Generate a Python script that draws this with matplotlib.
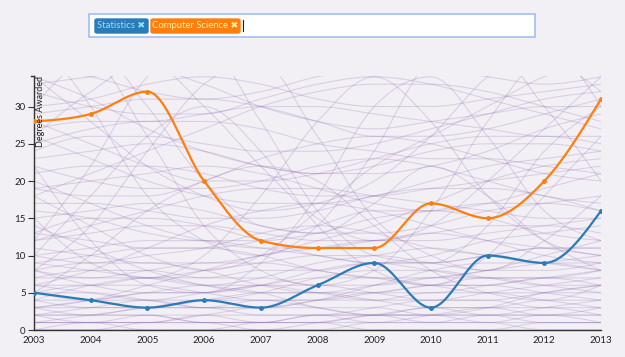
import numpy as np
import matplotlib.pyplot as plt
from matplotlib.patches import FancyBboxPatch, Rectangle

plt.rcParams["font.family"] = ["Lato", "DejaVu Sans"]

years = np.arange(2003, 2014)
statistics = [5, 4, 3, 4, 3, 6, 9, 3, 10, 9, 16]
comp_sci = [28, 29, 32, 20, 12, 11, 11, 17, 15, 20, 31]

# other majors, drawn faintly behind
others = [
    [0, 0, 1, 1, 1, 2, 2, 1, 1, 0, 0],
    [1, 1, 1, 2, 2, 2, 1, 1, 2, 2, 3],
    [2, 2, 3, 3, 2, 2, 3, 4, 4, 3, 3],
    [3, 2, 2, 1, 1, 2, 2, 3, 2, 2, 1],
    [4, 4, 5, 5, 6, 6, 5, 4, 4, 5, 6],
    [5, 6, 6, 5, 4, 4, 5, 6, 7, 7, 6],
    [6, 5, 4, 4, 5, 7, 8, 8, 7, 6, 6],
    [7, 7, 8, 9, 9, 8, 7, 7, 8, 9, 10],
    [1, 2, 3, 4, 4, 3, 2, 2, 1, 1, 1],
    [2, 3, 4, 3, 3, 4, 5, 5, 6, 7, 8],
    [0, 1, 1, 1, 0, 0, 1, 1, 1, 2, 2],
    [3, 3, 3, 4, 5, 5, 4, 3, 3, 4, 4],
    [8, 9, 9, 8, 6, 5, 5, 6, 6, 5, 4],
    [9, 8, 7, 6, 7, 9, 10, 11, 10, 9, 9],
    [10, 11, 12, 12, 11, 10, 9, 9, 10, 11, 11],
    [12, 13, 14, 14, 13, 12, 12, 13, 14, 14, 13],
    [13, 12, 11, 11, 12, 14, 16, 16, 15, 13, 12],
    [15, 16, 17, 16, 14, 13, 13, 14, 16, 17, 18],
    [17, 17, 16, 15, 15, 16, 18, 19, 19, 18, 16],
    [19, 20, 21, 22, 21, 19, 17, 16, 17, 19, 21],
    [21, 22, 22, 21, 19, 18, 18, 19, 20, 21, 22],
    [23, 24, 25, 24, 22, 21, 22, 24, 25, 25, 24],
    [25, 27, 28, 28, 27, 25, 24, 23, 23, 22, 21],
    [27, 28, 28, 29, 30, 30, 29, 28, 27, 26, 26],
    [30, 31, 33, 34, 33, 31, 30, 30, 31, 32, 33],
    [33, 34, 35, 33, 30, 28, 27, 28, 29, 30, 30],
    [6, 8, 11, 14, 16, 17, 16, 14, 12, 10, 9],
    [14, 11, 8, 6, 5, 5, 6, 7, 7, 6, 5],
    [20, 17, 14, 12, 11, 11, 12, 13, 12, 11, 10],
    [3, 4, 6, 8, 10, 11, 12, 12, 13, 14, 15],
    [11, 10, 9, 9, 10, 12, 14, 17, 20, 22, 23],
    [26, 23, 20, 18, 17, 17, 18, 20, 22, 23, 24],
    [34, 31, 27, 24, 22, 21, 21, 22, 24, 27, 29],
    [18, 21, 24, 27, 30, 32, 33, 33, 32, 30, 28],
    [5, 5, 4, 3, 3, 4, 6, 8, 9, 9, 8],
    [8, 7, 7, 8, 9, 10, 10, 9, 8, 8, 9],
    [2, 1, 1, 2, 3, 3, 3, 2, 2, 3, 4],
    [4, 3, 3, 3, 4, 4, 4, 5, 5, 4, 3],
    [1, 1, 2, 2, 1, 1, 1, 2, 3, 3, 2],
    [0, 0, 0, 0, 1, 1, 0, 0, 0, 1, 1],
    [7, 8, 8, 7, 7, 6, 6, 7, 8, 10, 12],
    [10, 9, 10, 11, 13, 14, 13, 11, 10, 9, 8],
    [16, 15, 13, 12, 12, 13, 15, 16, 17, 17, 16],
    [22, 20, 19, 19, 20, 22, 23, 22, 20, 18, 17],
    [29, 30, 31, 31, 30, 28, 26, 26, 27, 29, 31],
    [32, 30, 29, 29, 31, 33, 34, 33, 31, 29, 27],
    [24, 26, 26, 25, 24, 24, 25, 27, 29, 31, 32],
    [12, 14, 16, 18, 19, 19, 18, 17, 16, 15, 15],
    [9, 10, 11, 11, 10, 8, 7, 6, 6, 7, 7],
    [5, 4, 4, 5, 6, 7, 7, 6, 5, 5, 5],
    [3, 4, 5, 6, 6, 5, 4, 4, 5, 6, 7],
    [2, 2, 2, 1, 1, 1, 2, 2, 2, 1, 1],
    [6, 6, 7, 7, 8, 8, 9, 9, 10, 11, 11],
    [13, 15, 15, 14, 12, 10, 9, 10, 12, 13, 14],
    [19, 18, 18, 20, 23, 25, 26, 25, 23, 21, 20],
    [28, 25, 22, 20, 20, 21, 23, 25, 26, 26, 25],
    [35, 34, 32, 31, 32, 34, 35, 35, 34, 33, 34],
    [4, 6, 7, 6, 5, 3, 2, 2, 3, 5, 6],
    [1, 1, 0, 0, 0, 1, 2, 3, 3, 2, 2],
    [8, 6, 5, 5, 6, 8, 9, 8, 7, 7, 8],
    # steeper majors crossing the chart
    [40, 30, 18, 12, 10, 14, 24, 36, 38, 30, 20],
    [12, 22, 34, 38, 28, 16, 10, 9, 14, 24, 30],
    [30, 36, 26, 14, 8, 6, 8, 16, 28, 36, 32],
    [8, 14, 24, 33, 36, 26, 15, 10, 8, 12, 18],
    [22, 12, 6, 5, 9, 18, 30, 34, 26, 16, 12],
    [36, 38, 30, 20, 14, 13, 17, 22, 18, 12, 8],
    [15, 9, 7, 10, 18, 28, 34, 28, 18, 12, 10],
    [26, 32, 36, 30, 22, 15, 12, 14, 20, 27, 34],
    [5, 10, 16, 20, 22, 20, 14, 8, 5, 4, 6],
    [18, 14, 10, 8, 10, 16, 22, 26, 30, 34, 36],
    [34, 28, 22, 18, 16, 17, 20, 26, 34, 38, 30],
    [10, 18, 26, 30, 24, 14, 8, 6, 10, 18, 26],
]


def monotone_x(x, y, n=30):
    # d3 curveMonotoneX style cubic Hermite
    x = np.asarray(x, float)
    y = np.asarray(y, float)
    h = np.diff(x)
    s = np.diff(y) / h
    t = np.zeros_like(y)
    for i in range(1, len(y) - 1):
        h0, h1 = h[i - 1], h[i]
        s0, s1 = s[i - 1], s[i]
        p = (s0 * h1 + s1 * h0) / (h0 + h1)
        t[i] = (np.sign(s0) + np.sign(s1)) * min(abs(s0), abs(s1), 0.5 * abs(p))
    t[0] = (3 * s[0] - t[1]) / 2
    t[-1] = (3 * s[-1] - t[-2]) / 2
    xs, ys = [], []
    for i in range(len(x) - 1):
        u = np.linspace(0, 1, n)
        h00 = 2 * u**3 - 3 * u**2 + 1
        h10 = u**3 - 2 * u**2 + u
        h01 = -2 * u**3 + 3 * u**2
        h11 = u**3 - u**2
        xs.append(x[i] + u * h[i])
        ys.append(h00 * y[i] + h10 * h[i] * t[i] + h01 * y[i + 1] + h11 * h[i] * t[i + 1])
    return np.concatenate(xs), np.concatenate(ys)


bg = "#f3f0f5"
fig = plt.figure(figsize=(6.25, 3.57), dpi=100, facecolor=bg)
ax = fig.add_axes([34 / 625, 27 / 357, 567 / 625, 254 / 357])
ax.set_facecolor(bg)

for row in others:
    sx, sy = monotone_x(years, row)
    ax.plot(sx, sy, color="#8e6bb0", alpha=0.25, lw=0.8, zorder=1)

for vals, col in [(statistics, "#2a7bb8"), (comp_sci, "#ff7f0e")]:
    sx, sy = monotone_x(years, vals)
    ax.plot(sx, sy, color=col, lw=1.6, zorder=3)
    ax.plot(years, vals, "o", color=col, ms=2.5, zorder=4)

ax.set_xlim(2003, 2013)
ax.set_ylim(0, 34.1)
ax.set_xticks(years)
ax.set_xticklabels([str(y) for y in years])
ax.set_yticks([0, 5, 10, 15, 20, 25, 30])
ax.tick_params(axis="y", length=4, width=0.8, color="#333", labelsize=7, labelcolor="#222", pad=2)
ax.tick_params(axis="x", length=0, labelsize=7, labelcolor="#222", pad=4)
for side in ["top", "right"]:
    ax.spines[side].set_visible(False)
for side in ["left", "bottom"]:
    ax.spines[side].set_color("#333")
    ax.spines[side].set_linewidth(1.0)
ax.plot([-0.006, 0], [1, 1], transform=ax.transAxes, color="#333", lw=1.0, clip_on=False)

ax.text(0.012, 1.0, "Degrees Awarded", transform=ax.transAxes, rotation=90,
        ha="center", va="top", fontsize=6.5, color="#222")

# search box with selected tags
W, H = 625, 357
fig.patches.append(Rectangle((89 / W, 1 - 37 / H), 446 / W, 23 / H, transform=fig.transFigure,
                             facecolor="white", edgecolor="#9fbff0", lw=1.2))
tags = [("Statistics \u2716", 95, 148, "#2a7bb8", "#8ae6ff"),
        ("Computer Science \u2716", 151, 240, "#ff7f0e", "#fff4a8")]
for label, x0, x1, fc, tc in tags:
    fig.patches.append(FancyBboxPatch((x0 / W, 1 - 33 / H), (x1 - x0) / W, 14 / H,
                                      boxstyle="round,pad=0,rounding_size=0.004",
                                      transform=fig.transFigure, facecolor=fc, edgecolor=fc))
    fig.text((x0 + x1) / 2 / W, 1 - 26 / H, label, ha="center", va="center",
             fontsize=6.8, color=tc)
fig.lines.append(plt.Line2D([243 / W, 243 / W], [1 - 31 / H, 1 - 20 / H],
                            transform=fig.transFigure, color="#222", lw=0.8))

fig.savefig("out.png", dpi=100, facecolor=bg)
